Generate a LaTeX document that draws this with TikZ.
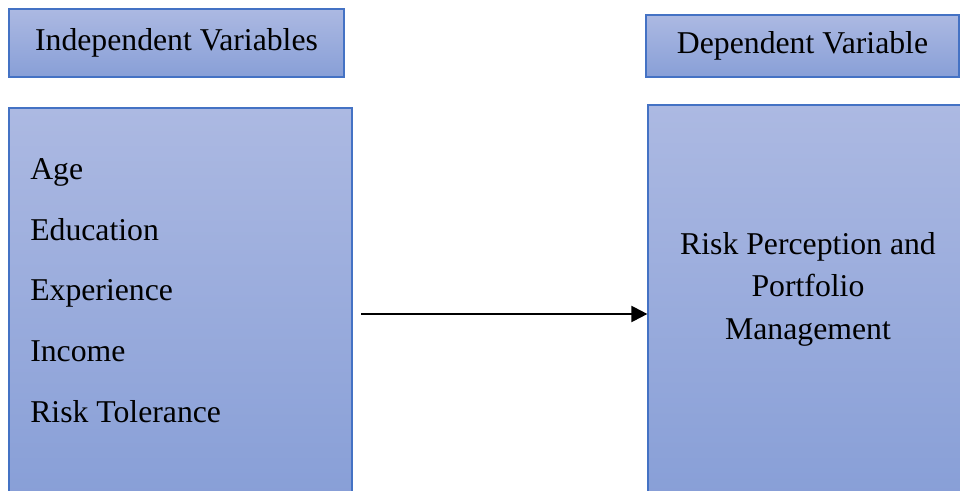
\documentclass[tikz,border=0pt]{standalone}
\usepackage{fontspec}
\setmainfont{Liberation Serif}
\usetikzlibrary{arrows.meta}

\definecolor{boxtop}{RGB}{172,185,226}
\definecolor{boxbottom}{RGB}{136,159,215}
\definecolor{boxline}{RGB}{68,114,196}

\begin{document}
\begin{tikzpicture}[x=0.75pt,y=0.75pt,
  varbox/.style={draw=boxline, line width=0.9pt, top color=boxtop, bottom color=boxbottom, inner sep=0pt},
  vartext/.style={font=\fontsize{23.8}{31.9}\selectfont, inner sep=0pt}]
\useasboundingbox (0,0) rectangle (960,-491);
% headings
\node [varbox, minimum width=251.25pt, minimum height=51pt, vartext] (indep) at (176.5,-43) {Independent Variables};
\node [varbox, minimum width=234.75pt, minimum height=46.5pt, vartext] (dep) at (802.5,-46) {Dependent Variable};
% main boxes
\node [varbox, minimum width=257.25pt, minimum height=290.25pt] (leftbox) at (180.5,-301.5) {};
\node [varbox, minimum width=235.5pt, minimum height=292.5pt] (rightbox) at (805,-300) {};
% independent variables
\node [vartext, anchor=base west] (age) at (30,-180) {Age};
\node [vartext, anchor=base west] (edu) at (30,-240.5) {Education};
\node [vartext, anchor=base west] (exp) at (30,-301) {Experience};
\node [vartext, anchor=base west] (inc) at (30,-361.5) {Income};
\node [vartext, anchor=base west] (risk) at (30,-422) {Risk Tolerance};
% dependent variable
\node [vartext, align=center] (rpm) at (808,-289) {Risk Perception and\\Portfolio\\Management};
% arrow
\coordinate (tail) at (361,-314);
\draw [line width=1.6pt, -{Triangle[length=12pt,width=12pt]}] (tail) -- (tail -| rightbox.west);
\end{tikzpicture}
\end{document}
